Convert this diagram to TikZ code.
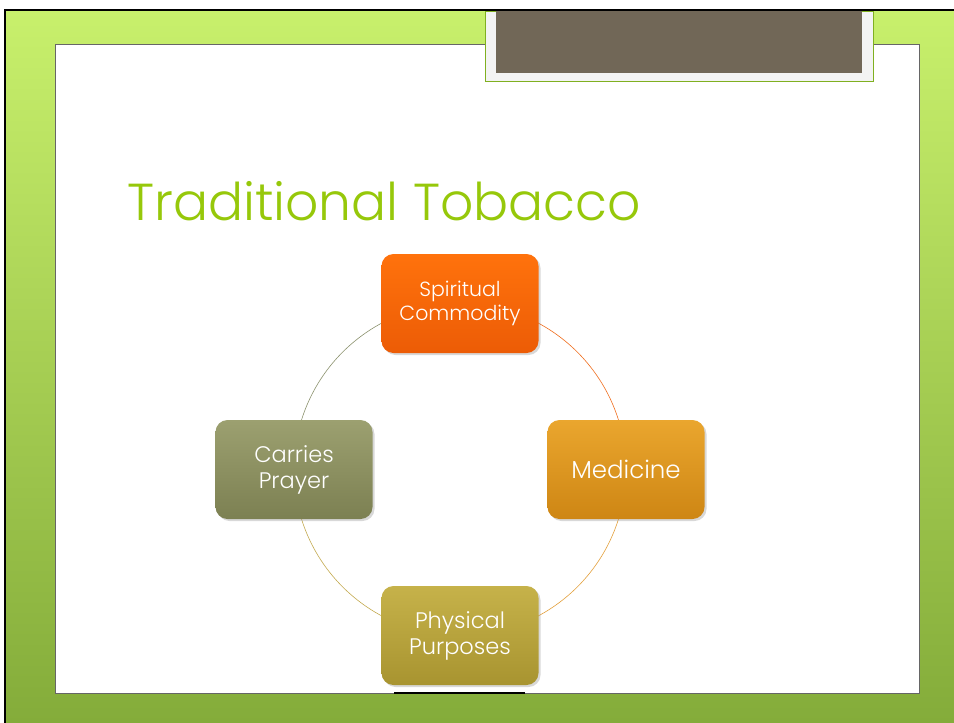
\documentclass[tikz,border=0pt]{standalone}
\usepackage{fontspec}
\setmainfont{Poppins}[UprightFont=* Light]
\usetikzlibrary{shadows,backgrounds}
\definecolor{frametop}{RGB}{200,240,108}
\definecolor{framebot}{RGB}{132,172,58}
\definecolor{titlegreen}{RGB}{150,200,10}
\definecolor{tabgray}{RGB}{243,243,243}
\definecolor{tabgreen}{RGB}{128,176,32}
\definecolor{tabbrown}{RGB}{113,103,87}
\tikzset{box/.style={rectangle,rounded corners=12pt,minimum width=157pt,minimum height=99pt,text=white,align=center,font=\fontsize{22.5}{26}\selectfont,drop shadow={opacity=.3,shadow xshift=2pt,shadow yshift=-2pt}}}
\tikzset{ring/.style={line width=.6pt}}
\begin{document}
\begin{tikzpicture}[x=1pt,y=-1pt]
  \useasboundingbox (0,0) rectangle (954,723);
  % frame and slide
  \begin{pgfonlayer}{background}
  \fill[top color=frametop,bottom color=framebot] (5,10) rectangle (954,723);
  \draw[line width=2.5pt] (5,723) -- (5,10) -- (954,10);
  \draw[black!60,fill=white] (55,44) rectangle (919,693);
  \draw[tabgreen,fill=tabgray,line width=1pt] (485,11) rectangle (873,81);
  \fill[tabbrown] (496,11) rectangle (862,73);
  \draw[line width=2.5pt] (394,693) -- (525,693);
  \end{pgfonlayer}
  \node[anchor=base west,inner sep=0pt,text=titlegreen,font=\fontsize{52}{60}\selectfont] (title) at (127,220) {Traditional Tobacco};
  % cycle
  \node[box,font=\fontsize{20.5}{24}\selectfont,top color={rgb,255:red,255;green,114;blue,12},bottom color={rgb,255:red,236;green,92;blue,6}] (spirit) at (460,303.5) {Spiritual\\Commodity};
  \node[box,font=\fontsize{24.5}{28}\selectfont,top color={rgb,255:red,234;green,166;blue,46},bottom color={rgb,255:red,206;green,134;blue,20}] (medicine) at (626,469.5) {Medicine};
  \node[box,top color={rgb,255:red,198;green,178;blue,74},bottom color={rgb,255:red,168;green,148;blue,48}] (physical) at (460,635.5) {Physical\\Purposes};
  \node[box,top color={rgb,255:red,156;green,160;blue,112},bottom color={rgb,255:red,124;green,128;blue,82}] (prayer) at (294,469.5) {Carries\\Prayer};
  \begin{pgfonlayer}{background}
  \draw[ring,draw={rgb,255:red,240;green,110;blue,30}] (spirit.center) arc[start angle=-90,end angle=0,radius=166];
  \draw[ring,draw={rgb,255:red,228;green,160;blue,60}] (medicine.center) arc[start angle=0,end angle=90,radius=166];
  \draw[ring,draw={rgb,255:red,196;green,170;blue,80}] (physical.center) arc[start angle=90,end angle=180,radius=166];
  \draw[ring,draw={rgb,255:red,140;green,146;blue,110}] (prayer.center) arc[start angle=180,end angle=270,radius=166];
  \end{pgfonlayer}
\end{tikzpicture}
\end{document}
